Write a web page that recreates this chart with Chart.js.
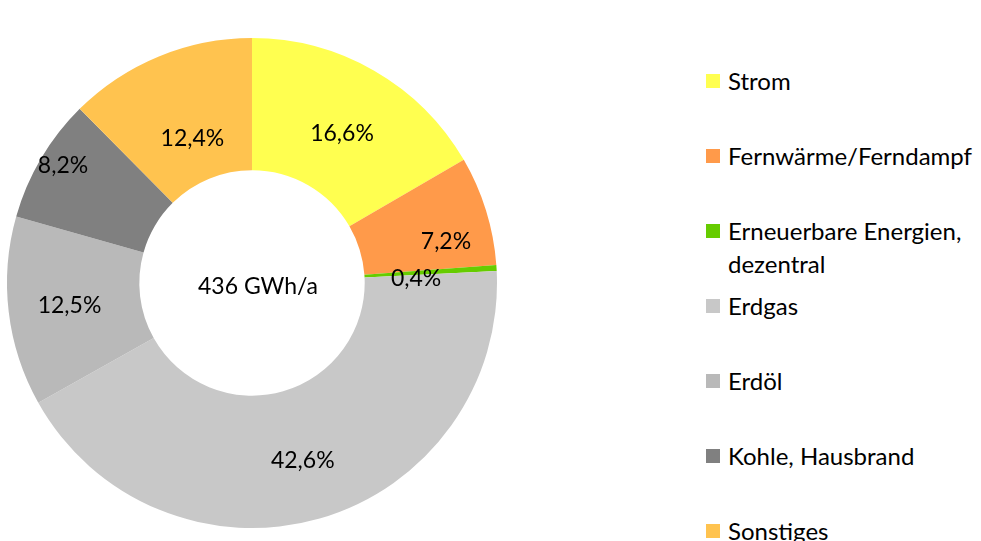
<!DOCTYPE html>
<html>
<head>
<meta charset="utf-8">
<script src="https://cdn.jsdelivr.net/npm/chart.js@4/dist/chart.umd.min.js"></script>
<style>
  html, body { margin: 0; padding: 0; background: #fff; }
  #wrap { position: relative; width: 981px; height: 541px; overflow: hidden; }
  #chartBox { position: absolute; left: 0; top: 0; width: 504px; height: 541px; }
  #legend { position: absolute; left: 0; top: 0; }
  .li { position: absolute; left: 706px; font-family: Lato, "Open Sans", sans-serif; font-size: 24px; color: #000; line-height: 33px; width: 275px; }
  .sw { position: absolute; left: 0; top: 10px; width: 14px; height: 14px; }
  .tx { position: absolute; left: 22px; top: 0; width: 262px; white-space: normal; }
</style>
</head>
<body>
<div id="wrap">
  <div id="chartBox"><canvas id="c"></canvas></div>
  <div id="legend"></div>
</div>
<script>
const categories = ["Strom", "Fernwärme/Ferndampf", "Erneuerbare Energien, dezentral", "Erdgas", "Erdöl", "Kohle, Hausbrand", "Sonstiges"];
const shares = [16.6, 7.2, 0.4, 42.6, 12.5, 8.2, 12.4];
const valueLabels = ["16,6%", "7,2%", "0,4%", "42,6%", "12,5%", "8,2%", "12,4%"];
const centerText = "436 GWh/a";

const colors = ["#FFFF50", "#FF9A4A", "#66CC00", "#C8C8C8", "#B9B9B9", "#808080", "#FFC34F"];
// label placement (fraction of outer radius, angular nudge in degrees)
const labelRadius = [0.715, 0.81, 0.67, 0.75, 0.75, 0.91, 0.64];
const labelNudge = [1, 5, 1.5, 0, 0, 1.5, 0];

const FONT = 'Lato, "Open Sans", sans-serif';

const labelPlugin = {
  id: 'sliceLabels',
  afterDatasetsDraw(chart) {
    const ctx = chart.ctx;
    const meta = chart.getDatasetMeta(0);
    ctx.save();
    ctx.font = '23px ' + FONT;
    ctx.fillStyle = '#000';
    ctx.textAlign = 'center';
    ctx.textBaseline = 'middle';
    let cx = 0, cy = 0;
    meta.data.forEach((arc, i) => {
      const p = arc.getProps(['x', 'y', 'startAngle', 'endAngle', 'outerRadius'], true);
      cx = p.x; cy = p.y;
      const mid = (p.startAngle + p.endAngle) / 2 + labelNudge[i] * Math.PI / 180;
      const r = p.outerRadius * labelRadius[i];
      ctx.fillText(valueLabels[i], p.x + Math.cos(mid) * r, p.y + Math.sin(mid) * r + 1);
    });
    ctx.fillText(centerText, cx + 6, cy + 4);
    ctx.restore();
  }
};

new Chart(document.getElementById('c'), {
  type: 'doughnut',
  data: {
    labels: categories,
    datasets: [{
      data: shares,
      backgroundColor: colors,
      borderWidth: 0
    }]
  },
  options: {
    responsive: true,
    maintainAspectRatio: false,
    animation: false,
    cutout: '46%',
    layout: { padding: { left: 7, right: 7, top: 38, bottom: 13 } },
    plugins: { legend: { display: false }, tooltip: { enabled: false } }
  },
  plugins: [labelPlugin]
});

const legend = document.getElementById('legend');
categories.forEach((name, i) => {
  const item = document.createElement('div');
  item.className = 'li';
  item.style.top = (81 + i * 75 - 17.5) + 'px';
  const sw = document.createElement('div');
  sw.className = 'sw';
  sw.style.background = colors[i];
  const tx = document.createElement('div');
  tx.className = 'tx';
  tx.textContent = name;
  item.appendChild(sw);
  item.appendChild(tx);
  legend.appendChild(item);
});
</script>
</body>
</html>
